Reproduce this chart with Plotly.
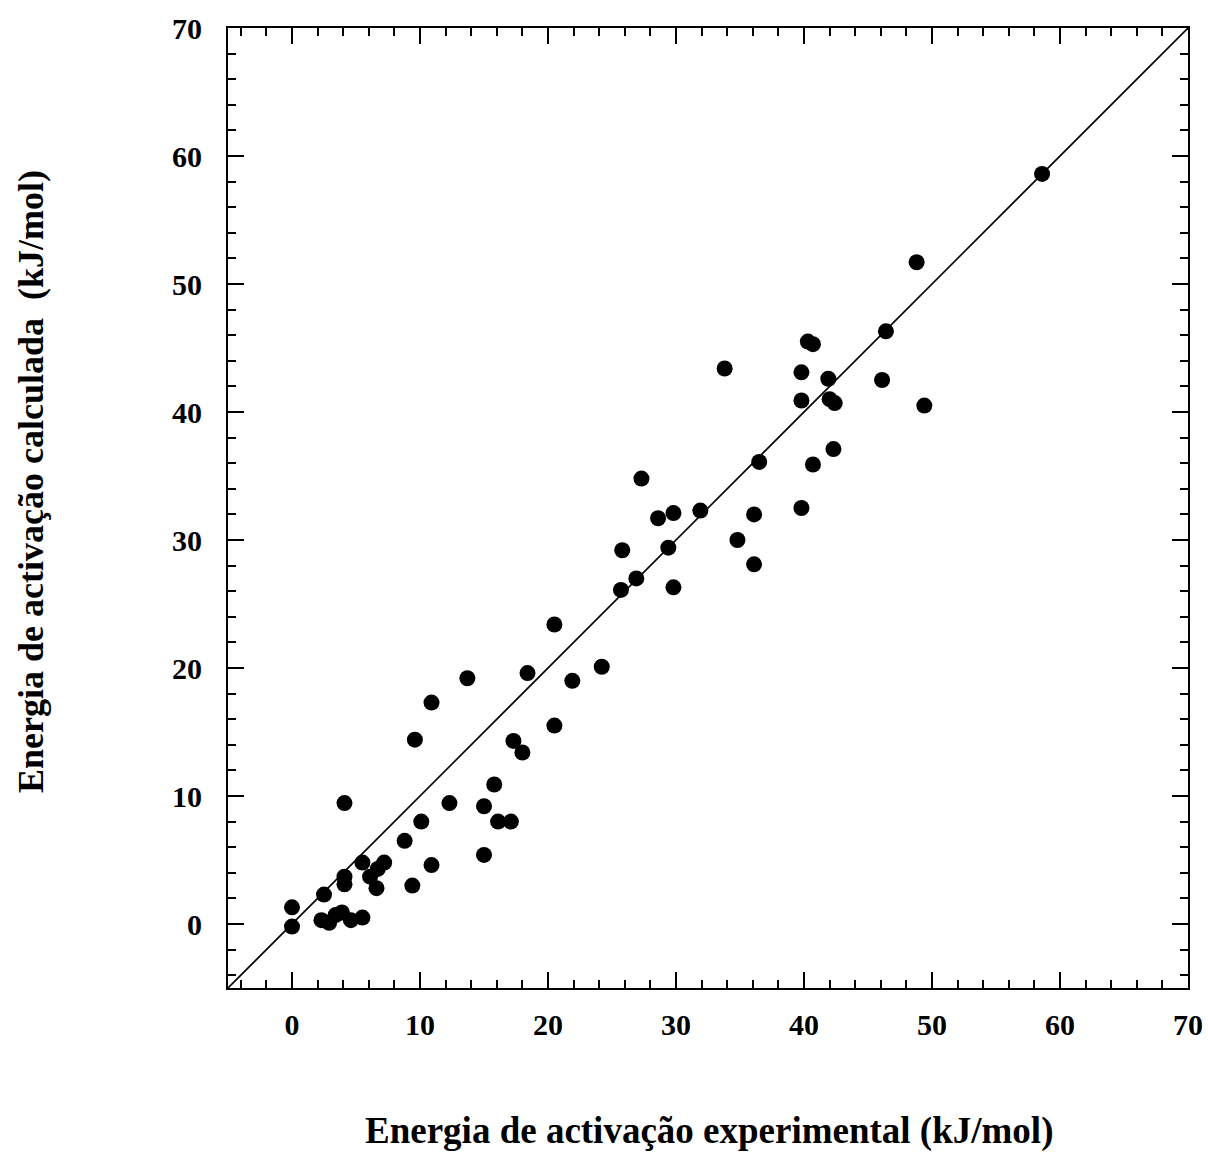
import plotly.graph_objects as go

exp_energy = [0.0, 0.0, 2.5, 2.3, 2.9, 3.4, 3.9, 4.6, 5.5, 4.1, 4.1, 4.1, 5.5, 6.1, 6.6, 6.7, 7.2,
              8.8, 9.4, 10.1, 9.6, 10.9, 10.9, 12.3, 13.7, 15.0, 15.0, 15.8, 16.1, 17.1, 17.3,
              18.0, 18.4, 20.5, 20.5, 21.9, 24.2, 25.7, 25.8, 26.9, 27.3, 28.6, 29.4, 29.8,
              29.8, 31.9, 33.8, 34.8, 36.1, 36.1, 36.5, 39.8, 39.8, 39.8, 40.3, 40.7, 40.7,
              41.9, 42.0, 42.4, 42.3, 46.1, 46.4, 48.8, 49.4, 58.6]
calc_energy = [1.3, -0.2, 2.3, 0.3, 0.1, 0.7, 0.9, 0.3, 0.5, 3.7, 3.1, 9.45, 4.8, 3.7, 2.8, 4.3, 4.8,
               6.5, 3.0, 8.0, 14.4, 4.6, 17.3, 9.45, 19.2, 9.2, 5.4, 10.9, 8.0, 8.0, 14.3,
               13.4, 19.6, 15.5, 23.4, 19.0, 20.1, 26.1, 29.2, 27.0, 34.8, 31.7, 29.4, 32.1,
               26.3, 32.3, 43.4, 30.0, 32.0, 28.1, 36.1, 43.1, 40.9, 32.5, 45.5, 45.3, 35.9,
               42.6, 41.0, 40.7, 37.1, 42.5, 46.3, 51.7, 40.5, 58.6]
line_x = [-5, 70]
line_y = [-5, 70]
tick_vals = [0, 10, 20, 30, 40, 50, 60, 70]
tick_text = ["0", "10", "20", "30", "40", "50", "60", "70"]

font_family = "Liberation Serif, Times New Roman, serif"

fig = go.Figure()
fig.add_trace(go.Scatter(x=line_x, y=line_y, mode="lines",
                         line=dict(color="black", width=1.6), hoverinfo="skip"))
fig.add_trace(go.Scatter(x=exp_energy, y=calc_energy, mode="markers",
                         marker=dict(color="black", size=16, line=dict(width=0))))

axis_common = dict(
    range=[-5, 70], tickvals=tick_vals, ticktext=tick_text, automargin=False,
    ticks="inside", ticklen=16, tickwidth=2, tickcolor="black",
    showline=True, linecolor="black", linewidth=2, mirror="ticks",
    showgrid=False, zeroline=False,
    tickfont=dict(family=font_family, size=30, color="black", weight="bold"),
    minor=dict(dtick=2, tick0=0, ticks="inside", ticklen=8, tickwidth=2, tickcolor="black", showgrid=False),
)

fig.update_layout(
    width=1208, height=1153,
    margin=dict(l=228, r=20, t=28, b=165),
    paper_bgcolor="white", plot_bgcolor="white",
    showlegend=False,
    xaxis=dict(**axis_common, ticklabelstandoff=9),
    yaxis=dict(**axis_common, ticklabelstandoff=18),
    font=dict(family=font_family, color="black"),
)

fig.add_annotation(text="<b>Energia de activação experimental (kJ/mol)</b>",
                   xref="paper", yref="paper", x=(709 - 228) / 960, y=(988 - 1131) / 960,
                   xanchor="center", yanchor="middle", showarrow=False,
                   font=dict(family=font_family, size=37, color="black"))
fig.add_annotation(text="<b>Energia de activação calculada\u00a0 (kJ/mol)</b>",
                   xref="paper", yref="paper", x=(31 - 228) / 960, y=(988 - 482) / 960,
                   xanchor="center", yanchor="middle", textangle=-90, showarrow=False,
                   font=dict(family=font_family, size=36, color="black"))

fig.write_html("out.html")
